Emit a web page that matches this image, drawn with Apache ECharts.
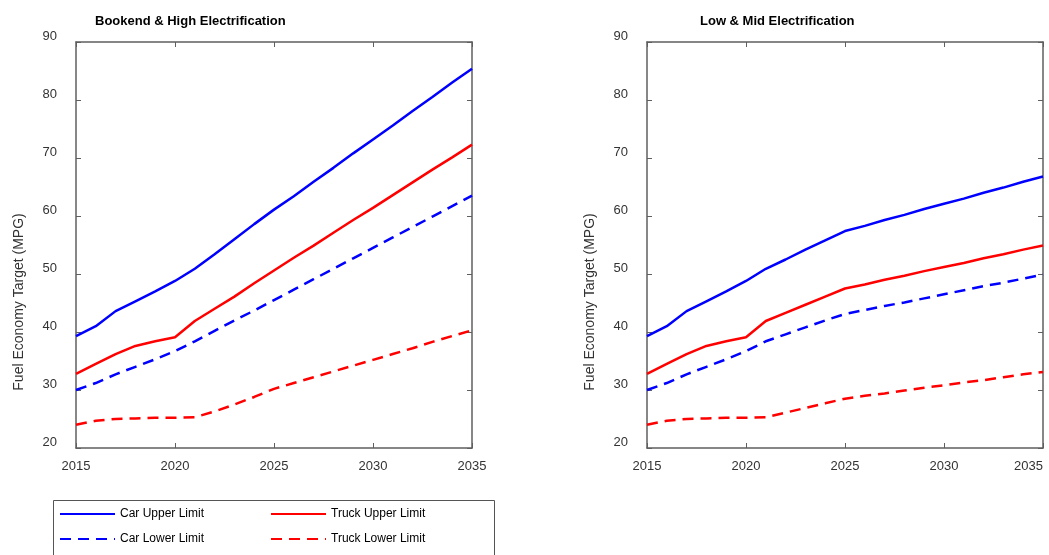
<!DOCTYPE html>
<html>
<head>
<meta charset="utf-8">
<script src="https://cdn.jsdelivr.net/npm/echarts@6/dist/echarts.min.js"></script>
<style>
  html, body { margin: 0; padding: 0; background: #fff; }
  #echarts { width: 1049px; height: 555px; }
</style>
</head>
<body>
<div id="echarts"></div>
<script>
// 年份 / 数据
var years = [2015, 2016, 2017, 2018, 2019, 2020, 2021, 2022, 2023, 2024, 2025,
  2026, 2027, 2028, 2029, 2030, 2031, 2032, 2033, 2034, 2035];
var xTicks = [2015, 2020, 2025, 2030, 2035];
var yTicks = [20, 30, 40, 50, 60, 70, 80, 90];
var panelTitles = ["Bookend & High Electrification", "Low & Mid Electrification"];
var seriesNames = ["Car Upper Limit", "Truck Upper Limit", "Car Lower Limit", "Truck Lower Limit"];

// Bookend & High
var highCarUpper = [39.3, 41.0, 43.6, 45.3, 47.0, 48.8, 50.9, 53.4, 56.0, 58.6, 61.1,
  63.4, 65.9, 68.3, 70.8, 73.2, 75.6, 78.1, 80.5, 83.0, 85.4];
var highTruckUpper = [32.8, 34.5, 36.2, 37.6, 38.4, 39.1, 41.9, 44.0, 46.1, 48.4, 50.6,
  52.8, 54.9, 57.1, 59.3, 61.4, 63.6, 65.8, 68.0, 70.1, 72.3];
var highCarLower = [30.0, 31.2, 32.7, 34.0, 35.3, 36.7, 38.4, 40.2, 42.0, 43.7, 45.5,
  47.3, 49.1, 50.9, 52.7, 54.5, 56.3, 58.1, 59.9, 61.7, 63.5];
var highTruckLower = [24.0, 24.7, 25.0, 25.1, 25.2, 25.2, 25.3, 26.3, 27.5, 28.8, 30.2,
  31.2, 32.2, 33.2, 34.2, 35.2, 36.2, 37.2, 38.3, 39.3, 40.3];

// Low & Mid
var lowCarUpper = [39.3, 41.0, 43.6, 45.3, 47.0, 48.8, 50.9, 52.5, 54.2, 55.8, 57.4,
  58.3, 59.3, 60.2, 61.2, 62.1, 63.0, 64.0, 64.9, 65.9, 66.8];
var lowTruckUpper = [32.8, 34.5, 36.2, 37.6, 38.4, 39.1, 41.9, 43.3, 44.7, 46.1, 47.5,
  48.2, 49.0, 49.7, 50.5, 51.2, 51.9, 52.7, 53.4, 54.2, 54.9];
var lowCarLower = [30.0, 31.2, 32.7, 34.0, 35.3, 36.7, 38.4, 39.6, 40.8, 42.0, 43.1,
  43.8, 44.5, 45.1, 45.8, 46.5, 47.2, 47.9, 48.5, 49.2, 49.9];
var lowTruckLower = [24.0, 24.7, 25.0, 25.1, 25.2, 25.2, 25.3, 26.1, 26.9, 27.7, 28.5,
  29.0, 29.4, 29.9, 30.4, 30.8, 31.3, 31.7, 32.2, 32.7, 33.1];

var panelData = [
  [highCarUpper, highTruckUpper, highCarLower, highTruckLower],
  [lowCarUpper, lowTruckUpper, lowCarLower, lowTruckLower]
];
var colors = ["#0000ff", "#ff0000", "#0000ff", "#ff0000"];
var dashed = [false, false, true, true];

var FONT = "Liberation Sans, Arial, sans-serif";
var AXIS_COLOR = "#5f5f5f";

var chartDom = document.getElementById("echarts");
var myChart = echarts.init(chartDom);
var option;

function pairs(arr) {
  return years.map(function (y, i) { return [y, arr[i]]; });
}

var grids = [
  { left: 76, top: 42, width: 396, height: 406, outerBoundsMode: "none", containLabel: false },
  { left: 647, top: 42, width: 396, height: 406, outerBoundsMode: "none", containLabel: false }
];

var xAxes = [];
var yAxes = [];
var series = [];

grids.forEach(function (g, gi) {
  // 底部 + 顶部镜像
  xAxes.push({
    gridIndex: gi, type: "value", min: 2015, max: 2035, interval: 5,
    axisLine: { lineStyle: { color: AXIS_COLOR, width: 1.5 } },
    axisTick: { inside: true, length: 5, lineStyle: { color: AXIS_COLOR } },
    axisLabel: { color: "#333", fontSize: 13, fontFamily: FONT, margin: 12,
      alignMaxLabel: gi === 1 ? "right" : null,
      formatter: function (v) { return String(v); } },
    splitLine: { show: false }
  });
  xAxes.push({
    gridIndex: gi, type: "value", position: "top", min: 2015, max: 2035, interval: 5,
    axisLine: { lineStyle: { color: AXIS_COLOR, width: 1.5 } },
    axisTick: { inside: true, length: 5, lineStyle: { color: AXIS_COLOR } },
    axisLabel: { show: false },
    splitLine: { show: false }
  });
  yAxes.push({
    gridIndex: gi, type: "value", min: 20, max: 90, interval: 10,
    name: "Fuel Economy Target (MPG)",
    nameLocation: "middle",
    nameGap: 50,
    nameTextStyle: { color: "#333", fontSize: 14, fontFamily: FONT, padding: [0, 114, 0, 0] },
    axisLine: { lineStyle: { color: AXIS_COLOR, width: 1.5 } },
    axisTick: { inside: true, length: 5, lineStyle: { color: AXIS_COLOR } },
    axisLabel: { color: "#333", fontSize: 13, fontFamily: FONT, margin: 19,
      verticalAlign: "bottom", lineHeight: 11 },
    splitLine: { show: false }
  });
  yAxes.push({
    gridIndex: gi, type: "value", position: "right", min: 20, max: 90, interval: 10,
    axisLine: { lineStyle: { color: AXIS_COLOR, width: 1.5 } },
    axisTick: { inside: true, length: 5, lineStyle: { color: AXIS_COLOR } },
    axisLabel: { show: false },
    splitLine: { show: false }
  });

  panelData[gi].forEach(function (arr, si) {
    series.push({
      name: seriesNames[si],
      type: "line",
      xAxisIndex: gi * 2,
      yAxisIndex: gi * 2,
      data: pairs(arr),
      symbol: "none",
      silent: true,
      z: 4 - si,
      lineStyle: {
        color: colors[si],
        width: 2.5,
        type: dashed[si] ? [11, 7] : "solid"
      },
      itemStyle: { color: colors[si] }
    });
  });
});

var legendBase = {
  orient: "vertical",
  top: 508,
  itemWidth: 55,
  itemHeight: 14,
  itemGap: 13,
  padding: 0,
  selectedMode: false,
  itemStyle: { opacity: 0 },
  textStyle: { fontSize: 12, color: "#000", fontFamily: FONT }
};

option = {
  animation: false,
  backgroundColor: "#fff",
  title: [
    { text: panelTitles[0], left: 90, top: 10,
      textStyle: { fontSize: 13, fontWeight: "bold", color: "#000", fontFamily: FONT } },
    { text: panelTitles[1], left: 695, top: 10,
      textStyle: { fontSize: 13, fontWeight: "bold", color: "#000", fontFamily: FONT } }
  ],
  grid: grids,
  xAxis: xAxes,
  yAxis: yAxes,
  legend: [
    Object.assign({}, legendBase, { left: 59, data: [seriesNames[0], seriesNames[2]] }),
    Object.assign({}, legendBase, { left: 270, data: [seriesNames[1], seriesNames[3]] })
  ],
  graphic: [
    {
      type: "rect",
      shape: { x: 53.5, y: 500.5, width: 441, height: 70 },
      style: { fill: "none", stroke: "#555", lineWidth: 1 },
      silent: true
    }
  ],
  series: series
};

option && myChart.setOption(option);
</script>
</body>
</html>
